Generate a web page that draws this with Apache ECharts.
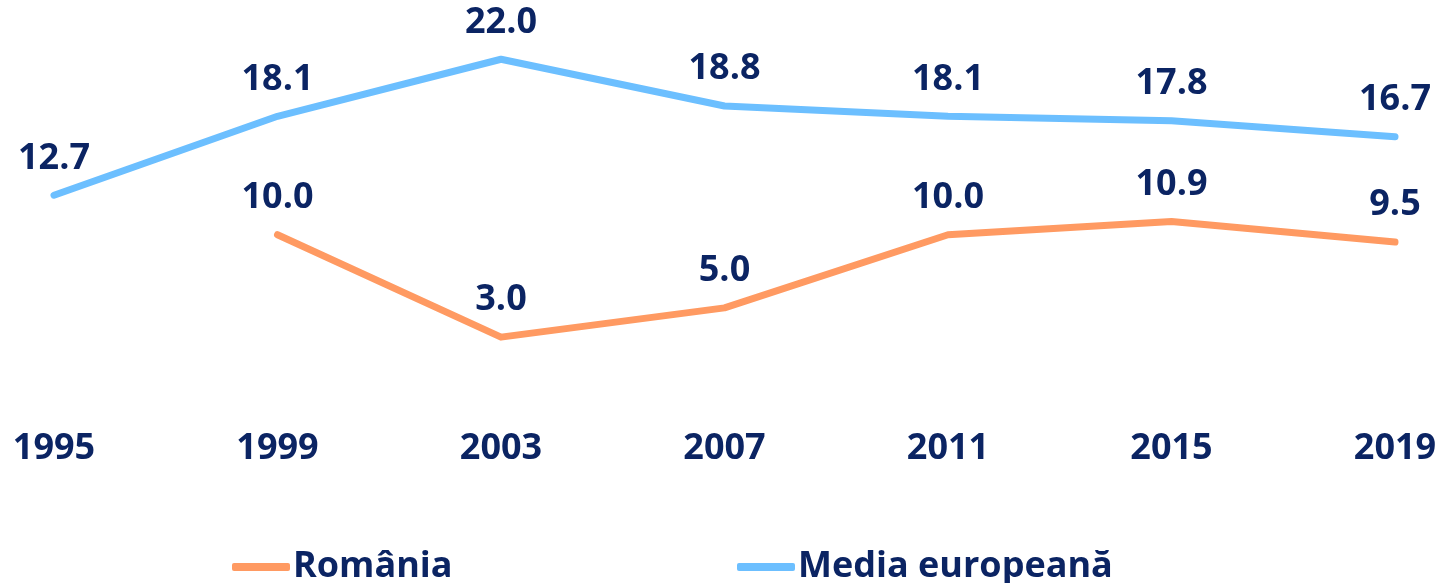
<!DOCTYPE html>
<html>
<head>
<meta charset="utf-8">
<script src="https://cdn.jsdelivr.net/npm/echarts@6/dist/echarts.min.js"></script>
<style>
html,body{margin:0;padding:0;background:#fff;}
#c{width:1441px;height:583px;}
</style>
</head>
<body>
<div id="c"></div>
<script>
const years = ['1995','1999','2003','2007','2011','2015','2019'];
const romania = [null, 10.0, 3.0, 5.0, 10.0, 10.9, 9.5];
const mediaEU = [12.7, 18.1, 22.0, 18.8, 18.1, 17.8, 16.7];
const seriesNames = ['România', 'Media europeană'];

const textColor = '#0B2463';
const font = '"Open Sans", "Noto Sans", sans-serif';
const chart = echarts.init(document.getElementById('c'), null, {renderer: 'canvas'});

const labelCfg = {
  show: true,
  position: 'top',
  distance: 18,
  color: textColor,
  fontFamily: font,
  fontWeight: 'bold',
  fontSize: 36,
  formatter: p => (p.value == null ? '' : Number(p.value).toFixed(1))
};

chart.setOption({
  animation: false,
  backgroundColor: '#ffffff',
  grid: {left: 54, right: 46, top: 30, bottom: 202, containLabel: false},
  xAxis: {
    type: 'category',
    data: years,
    boundaryGap: false,
    axisLine: {show: false},
    axisTick: {show: false},
    splitLine: {show: false},
    axisLabel: {
      color: textColor, fontFamily: font, fontWeight: 'bold', fontSize: 36,
      margin: 50, interval: 0
    }
  },
  yAxis: {
    type: 'value', min: 0, max: 24,
    show: false,
    splitLine: {show: false}
  },
  legend: [
    {
      data: [seriesNames[0]], left: 232, top: 549, padding: 0,
      icon: 'roundRect', itemWidth: 58, itemHeight: 8, itemGap: 0,
      textStyle: {color: textColor, fontFamily: font, fontWeight: 'bold', fontSize: 36, padding: [0,0,0,-2]}
    },
    {
      data: [seriesNames[1]], left: 737, top: 549, padding: 0,
      icon: 'roundRect', itemWidth: 58, itemHeight: 8, itemGap: 0,
      textStyle: {color: textColor, fontFamily: font, fontWeight: 'bold', fontSize: 36, padding: [0,0,0,-2]}
    }
  ],
  series: [
    {
      name: seriesNames[0], type: 'line', data: romania,
      showSymbol: true, symbol: 'circle', symbolSize: 2, connectNulls: false,
      lineStyle: {color: '#FF9A62', width: 7, cap: 'round', join: 'round'},
      itemStyle: {color: '#FF9A62'},
      label: labelCfg
    },
    {
      name: seriesNames[1], type: 'line', data: mediaEU,
      showSymbol: true, symbol: 'circle', symbolSize: 2,
      lineStyle: {color: '#6CBFFF', width: 7, cap: 'round', join: 'round'},
      itemStyle: {color: '#6CBFFF'},
      label: labelCfg
    }
  ]
});
</script>
</body>
</html>
